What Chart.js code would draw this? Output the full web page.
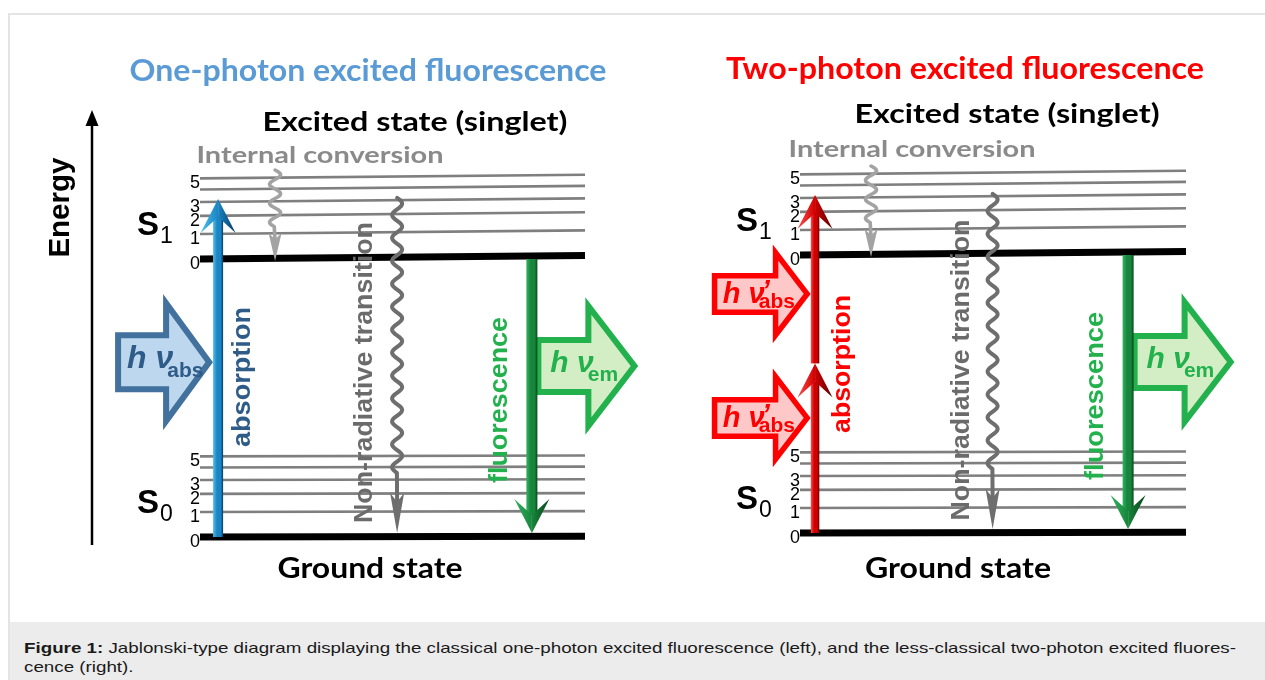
<!DOCTYPE html>
<html>
<head>
<meta charset="utf-8">
<title>Jablonski-type diagram</title>
<script src="https://cdn.jsdelivr.net/npm/chart.js@4.4.1/dist/chart.umd.min.js"></script>
<style>
  html, body { margin:0; padding:0; background:#fff; }
  body { width:1265px; height:680px; position:relative; overflow:hidden; }
  #frameTop { position:absolute; left:8px; top:13px; width:1257px; height:2px; background:#e4e4e4; }
  #frameLeft { position:absolute; left:8px; top:13px; width:2px; height:667px; background:#e4e4e4; }
  canvas { position:absolute; top:0; }
  #c1 { left:0; }
  #c2 { left:640px; }
  #caption { position:absolute; left:10px; top:622px; width:1255px; height:58px; background:#ececec; }
  #capText { position:absolute; left:14px; top:16px; font-family:"Liberation Sans", Arial, sans-serif;
             font-size:15px; line-height:19px; color:#1a1a1a; white-space:nowrap; transform-origin:0 0; }
</style>
</head>
<body>
<div id="frameTop"></div>
<div id="frameLeft"></div>
<canvas id="c1" width="640" height="620"></canvas>
<canvas id="c2" width="625" height="620"></canvas>
<div id="caption"><div id="capText"><b>Figure 1:</b> Jablonski-type diagram displaying the classical one-photon excited fluorescence (left), and the less-classical two-photon excited fluores-<br>cence (right).</div></div>
<script>
// ================= DATA =================
// Energies in arbitrary units: S0 (v=0) = 0, S1 (v=0) = 10
const electronicStates = ['S0', 'S1'];
const electronicEnergies = [0, 10];
const vibrationalEnergies = [0, 0.9, 1.55, 2.05, 2.5, 2.9];
const vibrationalLabels = ['0', '1', '2', '3', '', '5'];

// One-photon excited fluorescence
const oneTransitions = ['absorption', 'internal conversion', 'non-radiative transition', 'fluorescence'];
const oneFrom = [0, 13.2, 12.2, 10];
const oneTo = [12.05, 10, 0, 0];
const onePhotonLabels = ['abs', 'em'];
const onePhotonEnergies = [6.29, 6.15];

// Two-photon excited fluorescence (virtual state at 6.1)
const twoTransitions = ['absorption', 'absorption', 'internal conversion', 'non-radiative transition', 'fluorescence'];
const twoFrom = [0, 6.1, 13.2, 12.2, 10];
const twoTo = [6.1, 12.05, 10, 0, 0];
const twoPhotonLabels = ["abs'", "abs'", 'em'];
const twoPhotonEnergies = [8.6, 4.14, 6.15];

// ================= STYLE / LAYOUT =================
const SANS = '"Liberation Sans", Arial, sans-serif';
const HEAD = 'Lato, "Open Sans", sans-serif';
const AXIS_W = 12;
const levelTilt = [0.03, 0.13];

const arrowColors = {
  blue:  { light:'#4cc0f0', main:'#1b84c2', dark:'#0a3a66', shaft:10 },
  red:   { light:'#ff4a4a', main:'#cf0000', dark:'#5e0000', shaft:8.5 },
  green: { light:'#34b260', main:'#17863c', dark:'#094519', shaft:11 }
};
const photonStyles = {
  blue:  { fill:'#bdd7ee', stroke:'#41719c', text:'#2f5b88', lw:6,   len:98,  headLen:50, bodyHalf:30, headHalf:62, hSize:32, subSize:21, dx:-86, dy:6,  subDy:9 },
  red:   { fill:'#ffc8c8', stroke:'#ff0000', text:'#ff0000', lw:5.5, len:99,  headLen:38, bodyHalf:21, headHalf:44, hSize:29, subSize:21, dx:-88, dy:9,  subDy:5 },
  green: { fill:'#d3eec5', stroke:'#22b14c', text:'#22b14c', lw:6,   len:103, headLen:53, bodyHalf:29, headHalf:63, hSize:30, subSize:21, dx:-88, dy:6,  subDy:9 }
};
const wavyStyles = {
  'internal conversion':      { color:'#a3a3a3', lw:3.6, amp:5.5, period:18, headLen:28, headHalf:6.5, straight:6 },
  'non-radiative transition': { color:'#6e6e6e', lw:4,   amp:5,   period:23, headLen:40, headHalf:7,   straight:20 }
};

const panels = [
  {
    canvas:'c1', width:640, height:620, areaLeft:200, areaRight:585, zeroPx:537, unitPx:27.8,
    transitions: oneTransitions, from: oneFrom, to: oneTo,
    slots: [0.047, 0.195, 0.512, 0.862],
    absColor: 'blue',
    photonLabels: onePhotonLabels, photonEnergies: onePhotonEnergies,
    photonTargets: [0, 3], photonStyle: ['blue', 'green'],
    energyAxis: { f:-0.2805, from:-0.29, to:15.36 },
    stateLabelF: -0.1636, stateLabelDE: 0.85,
    texts: [
      { str:'One-photon excited fluorescence', f:0.4364, E:16.40, font:'bold 31px '+HEAD, color:'#5b9bd5', width:477 },
      { str:'Excited state (singlet)', f:0.5584, E:14.60, font:'bold 27px '+HEAD, color:'#000', width:305 },
      { str:'Internal conversion', f:0.3117, E:13.45, font:'bold 23px '+HEAD, color:'#8a8a8a', width:247 },
      { str:'Ground state', f:0.4416, E:-1.475, font:'bold 29px '+HEAD, color:'#000', width:185 },
      { str:'Energy', f:-0.361, E:11.85, font:'bold 29px '+SANS, color:'#000', width:100, rot:true },
      { str:'absorption', f:0.1117, E:5.755, font:'bold 25px '+SANS, color:'#2f5b88', width:140, rot:true },
      { str:'Non-radiative transition', f:0.4286, E:5.917, font:'bold 26px '+SANS, color:'#6b6b6b', width:301, rot:true },
      { str:'fluorescence', f:0.7792, E:4.928, font:'bold 26px '+SANS, color:'#22b14c', width:166, rot:true }
    ]
  },
  {
    canvas:'c2', width:625, height:620, areaLeft:160, areaRight:546, zeroPx:533, unitPx:27.8,
    transitions: twoTransitions, from: twoFrom, to: twoTo,
    slots: [0.039, 0.039, 0.184, 0.499, 0.85],
    absColor: 'red',
    photonLabels: twoPhotonLabels, photonEnergies: twoPhotonEnergies,
    photonTargets: [1, 0, 4], photonStyle: ['red', 'red', 'green'],
    energyAxis: null,
    stateLabelF: -0.1658, stateLabelDE: 0.88,
    texts: [
      { str:'Two-photon excited fluorescence', f:0.4275, E:16.33, font:'bold 31px '+HEAD, color:'#ff0000', width:478 },
      { str:'Excited state (singlet)', f:0.5363, E:14.75, font:'bold 27px '+HEAD, color:'#000', width:305 },
      { str:'Internal conversion', f:0.2902, E:13.52, font:'bold 23px '+HEAD, color:'#8a8a8a', width:247 },
      { str:'Ground state', f:0.4093, E:-1.62, font:'bold 29px '+HEAD, color:'#000', width:186 },
      { str:'absorption', f:0.1114, E:6.08, font:'bold 25px '+SANS, color:'#ff0000', width:138, rot:true },
      { str:'Non-radiative transition', f:0.4197, E:5.86, font:'bold 26px '+SANS, color:'#6b6b6b', width:301, rot:true },
      { str:'fluorescence', f:0.767, E:4.93, font:'bold 26px '+SANS, color:'#22b14c', width:168, rot:true }
    ]
  }
];

// ================= DRAWING HELPERS =================
function fitText(ctx, t, x, y) {
  ctx.save();
  ctx.font = t.font; ctx.fillStyle = t.color; ctx.textAlign = 'center';
  ctx.textBaseline = t.rot ? 'middle' : 'alphabetic';
  const w = ctx.measureText(t.str).width;
  ctx.translate(x, y);
  if (t.rot) ctx.rotate(-Math.PI / 2);
  ctx.scale(t.width / w, 1);
  ctx.fillText(t.str, 0, 0);
  ctx.restore();
}

function solidArrow(ctx, x, y0, yTip, c) {
  const dir = yTip < y0 ? -1 : 1;
  const headLen = 34, headHalf = 17.5, notchBack = 18;
  const yBarb = yTip - dir * headLen;
  const yNotch = yTip - dir * notchBack;
  const sw = c.shaft;
  const g = ctx.createLinearGradient(x - sw / 2, 0, x + sw / 2, 0);
  g.addColorStop(0, c.light); g.addColorStop(0.4, c.main); g.addColorStop(0.75, c.main); g.addColorStop(1, c.dark);
  ctx.fillStyle = g;
  ctx.fillRect(x - sw / 2, Math.min(y0, yNotch), sw, Math.abs(y0 - yNotch));
  const gl = ctx.createLinearGradient(x - headHalf, 0, x, 0);
  gl.addColorStop(0, c.light); gl.addColorStop(1, c.main);
  ctx.fillStyle = gl;
  ctx.beginPath(); ctx.moveTo(x, yTip); ctx.lineTo(x - headHalf, yBarb); ctx.lineTo(x, yNotch); ctx.closePath(); ctx.fill();
  const gr = ctx.createLinearGradient(x, 0, x + headHalf, 0);
  gr.addColorStop(0, c.main); gr.addColorStop(1, c.dark);
  ctx.fillStyle = gr;
  ctx.beginPath(); ctx.moveTo(x, yTip); ctx.lineTo(x + headHalf, yBarb); ctx.lineTo(x, yNotch); ctx.closePath(); ctx.fill();
}

function wavyArrow(ctx, x, yStart, yTip, s) {
  const yHeadBase = yTip - s.headLen;
  const yWaveEnd = yHeadBase - s.straight;
  const span = yWaveEnd - yStart;
  const n = Math.max(1, Math.round(span / s.period));
  const P = span / n;
  ctx.save();
  ctx.strokeStyle = s.color; ctx.lineWidth = s.lw; ctx.lineCap = 'round'; ctx.lineJoin = 'round';
  ctx.beginPath();
  ctx.moveTo(x, yStart);
  for (let y = yStart; y <= yWaveEnd; y += 0.5) ctx.lineTo(x + s.amp * Math.sin(2 * Math.PI * (y - yStart) / P), y);
  ctx.lineTo(x, yHeadBase + s.headLen * 0.3);
  ctx.stroke();
  ctx.fillStyle = s.color;
  ctx.beginPath();
  ctx.moveTo(x, yTip);
  ctx.lineTo(x - s.headHalf, yHeadBase);
  ctx.lineTo(x, yHeadBase + s.headLen * 0.22);
  ctx.lineTo(x + s.headHalf, yHeadBase);
  ctx.closePath(); ctx.fill();
  ctx.restore();
}

function blockArrow(ctx, xTip, yc, s) {
  const h = s.lw / 2;
  const ang = Math.atan2(s.headHalf, s.headLen);
  const tip = xTip - h / Math.sin(ang);
  const xTail = xTip - s.len + h, xHead = xTip - s.headLen + h;
  const bh = s.bodyHalf - h, hh = s.headHalf - h;
  ctx.save();
  ctx.beginPath();
  ctx.moveTo(xTail, yc - bh); ctx.lineTo(xHead, yc - bh); ctx.lineTo(xHead, yc - hh);
  ctx.lineTo(tip, yc); ctx.lineTo(xHead, yc + hh); ctx.lineTo(xHead, yc + bh); ctx.lineTo(xTail, yc + bh);
  ctx.closePath();
  ctx.fillStyle = s.fill; ctx.fill();
  ctx.lineWidth = s.lw; ctx.lineJoin = 'miter'; ctx.miterLimit = 10; ctx.strokeStyle = s.stroke; ctx.stroke();
  const x0 = xTip + s.dx, yb = yc + s.dy;
  ctx.fillStyle = s.text; ctx.textAlign = 'left'; ctx.textBaseline = 'alphabetic';
  ctx.font = 'italic bold ' + s.hSize + 'px ' + SANS;
  ctx.fillText('h \u03BD', x0, yb);
  const w = ctx.measureText('h \u03BD').width;
  ctx.restore();
  return { x0, yb, w };
}

function photonLabel(ctx, info, sub, s) {
  ctx.save();
  ctx.fillStyle = s.text; ctx.textAlign = 'left'; ctx.textBaseline = 'alphabetic';
  let label = sub;
  if (sub.endsWith("'")) {
    label = sub.slice(0, -1);
    ctx.font = 'italic bold ' + s.hSize + 'px ' + SANS;
    ctx.fillText('\u2019', info.x0 + info.w - 3, info.yb - 3);
  }
  ctx.font = 'bold ' + s.subSize + 'px ' + SANS;
  ctx.fillText(label, info.x0 + info.w - 6, info.yb + s.subDy);
  ctx.restore();
}

function diagramPlugin(p) {
  return {
    id: 'jablonski_' + p.canvas,
    afterDatasetsDraw(chart) {
      const ctx = chart.ctx;
      const X = f => chart.scales.x.getPixelForValue(f);
      const Y = e => chart.scales.y.getPixelForValue(e);
      const isLevel = e => electronicEnergies.some(E0 => vibrationalEnergies.some(v => Math.abs(E0 + v - e) < 1e-6));
      ctx.save();

      if (p.energyAxis) {
        const ax = X(p.energyAxis.f), yb = Y(p.energyAxis.from), yt = Y(p.energyAxis.to);
        ctx.strokeStyle = '#000'; ctx.lineWidth = 2.5;
        ctx.beginPath(); ctx.moveTo(ax, yb); ctx.lineTo(ax, yt + 12); ctx.stroke();
        ctx.fillStyle = '#000';
        ctx.beginPath(); ctx.moveTo(ax, yt); ctx.lineTo(ax - 6.5, yt + 16); ctx.lineTo(ax + 6.5, yt + 16); ctx.closePath(); ctx.fill();
      }

      electronicStates.forEach((st, i) => {
        const x = X(p.stateLabelF), y = Y(electronicEnergies[i] + p.stateLabelDE);
        ctx.fillStyle = '#000'; ctx.textAlign = 'left'; ctx.textBaseline = 'alphabetic';
        ctx.font = 'bold 33px ' + SANS;
        ctx.fillText(st[0], x, y);
        const w = ctx.measureText(st[0]).width;
        ctx.font = '23px ' + SANS;
        ctx.fillText(st.slice(1), x + w + 1, y + 8);
      });

      const photonInfo = [];
      p.photonLabels.forEach((sub, i) => {
        const s = photonStyles[p.photonStyle[i]];
        const ti = p.photonTargets[i];
        const name = p.transitions[ti];
        const col = name === 'fluorescence' ? arrowColors.green : arrowColors[p.absColor];
        const ax = X(p.slots[ti]);
        const yc = Y(p.photonEnergies[i]);
        const xTip = name === 'fluorescence' ? ax + col.shaft / 2 - 2 + s.len : ax - col.shaft / 2;
        photonInfo.push({ info: blockArrow(ctx, xTip, yc, s), sub, s });
      });

      p.transitions.forEach((name, i) => {
        const x = X(p.slots[i]);
        const y0 = Y(p.from[i]);
        let yTip = Y(p.to[i]);
        const dir = yTip < y0 ? -1 : 1;
        if (dir < 0 && isLevel(p.to[i])) yTip -= 3;
        if (dir > 0) yTip += (p.to[i] === 0 ? -4 : 2);
        if (wavyStyles[name]) {
          wavyArrow(ctx, x, y0, yTip, wavyStyles[name]);
        } else {
          const col = name === 'fluorescence' ? arrowColors.green : arrowColors[p.absColor];
          solidArrow(ctx, x, y0, yTip, col);
        }
      });

      photonInfo.forEach(o => photonLabel(ctx, o.info, o.sub, o.s));

      p.texts.forEach(t => fitText(ctx, t, X(t.f), Y(t.E)));
      ctx.restore();
    }
  };
}

function buildChart(p) {
  const datasets = [];
  const tickValues = [];
  electronicEnergies.forEach((E0, si) => {
    vibrationalEnergies.forEach((v, vi) => {
      const e = E0 + v;
      tickValues.push(e);
      datasets.push({
        label: electronicStates[si] + ' v=' + vi,
        data: [{ x: 0, y: e }, { x: 1, y: e + levelTilt[si] }],
        showLine: true,
        borderColor: vi === 0 ? '#000000' : '#7f7f7f',
        borderWidth: vi === 0 ? 7 : 2.6,
        borderCapStyle: 'butt',
        pointRadius: 0,
        fill: false
      });
    });
  });
  const top = 40, H = p.height - 2 * top;
  const yMax = (p.zeroPx - top) / p.unitPx;
  const yMin = yMax - H / p.unitPx;
  new Chart(document.getElementById(p.canvas), {
    type: 'scatter',
    data: { datasets },
    options: {
      responsive: false, maintainAspectRatio: false, animation: false, events: [],
      layout: { padding: { left: p.areaLeft - AXIS_W, right: p.width - p.areaRight, top: top, bottom: top } },
      plugins: { legend: { display: false }, tooltip: { enabled: false }, title: { display: false } },
      scales: {
        x: { type: 'linear', min: 0, max: 1, display: false },
        y: {
          type: 'linear', min: yMin, max: yMax, position: 'left',
          afterBuildTicks: s => { s.ticks = tickValues.map(v => ({ value: v })); },
          afterFit: s => { s.width = AXIS_W; },
          grid: { display: false, drawTicks: false },
          border: { display: false },
          ticks: {
            autoSkip: false, padding: 0, labelOffset: 5, color: '#000',
            font: { family: 'Liberation Sans', size: 18 },
            callback: (v, i) => vibrationalLabels[i % vibrationalLabels.length]
          }
        }
      }
    },
    plugins: [diagramPlugin(p)]
  });
}

panels.forEach(buildChart);

(function () {
  const m = document.createElement('canvas').getContext('2d');
  m.font = 'bold 15px "Liberation Sans"';
  const w1 = m.measureText('Figure 1:').width;
  m.font = '15px "Liberation Sans"';
  const w2 = m.measureText(' Jablonski-type diagram displaying the classical one-photon excited fluorescence (left), and the less-classical two-photon excited fluores-').width;
  const sc = 1212 / (w1 + w2);
  document.getElementById('capText').style.transform = 'scaleX(' + sc.toFixed(4) + ')';
})();
</script>
</body>
</html>
